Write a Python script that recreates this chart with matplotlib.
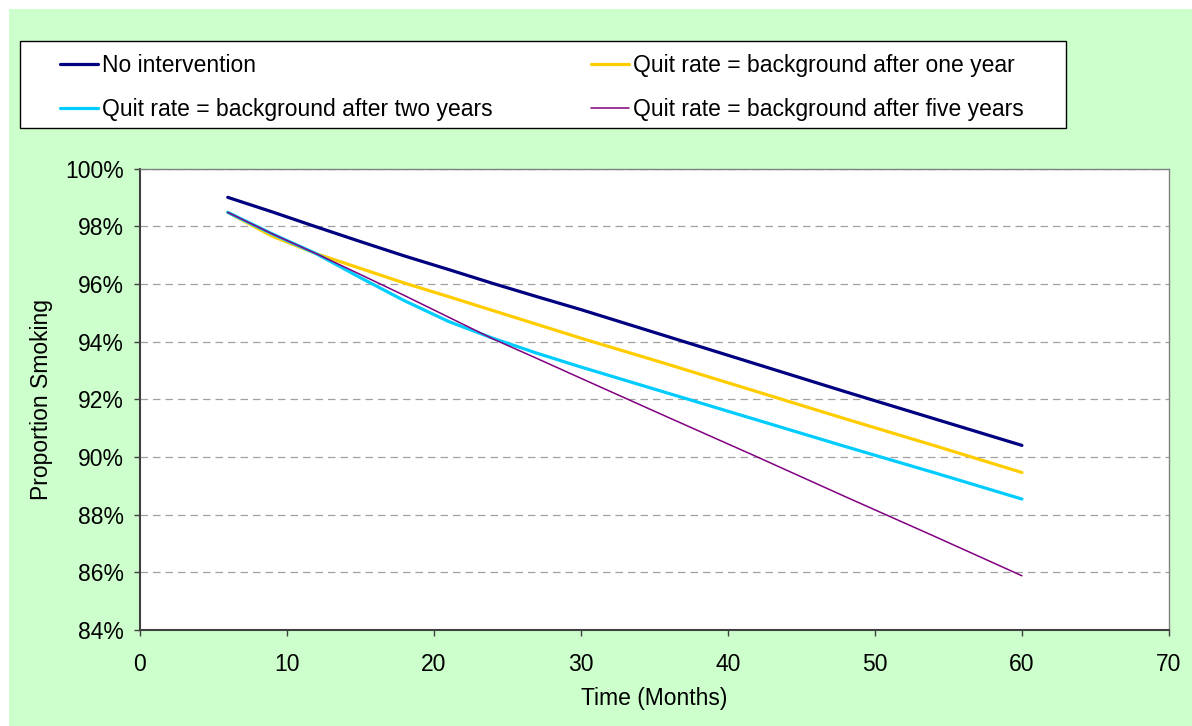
import matplotlib
matplotlib.use("Agg")
import matplotlib.pyplot as plt
from matplotlib.patches import Rectangle
from matplotlib.ticker import FuncFormatter, MultipleLocator

plt.rcParams['font.family'] = ['Liberation Sans', 'DejaVu Sans']

months = [6, 9, 12, 15, 18, 21, 24, 27, 30, 36, 42, 48, 54, 60]

# proportion smoking (%)
no_intervention = [99.0, 98.5, 97.98, 97.47, 96.97, 96.5, 96.02, 95.56, 95.11,
                   94.16, 93.21, 92.26, 91.33, 90.4]
after_one_year = [98.48, 97.66, 97.05, 96.54, 96.03, 95.56, 95.08, 94.6, 94.12,
                  93.2, 92.26, 91.32, 90.4, 89.46]
after_two_years = [98.48, 97.74, 97.05, 96.22, 95.42, 94.7, 94.12, 93.6, 93.12,
                   92.2, 91.28, 90.36, 89.46, 88.54]
after_five_years = [98.48, 97.74, 97.05, 96.33, 95.6, 94.85, 94.1, 93.42, 92.73,
                    91.36, 90.0, 88.62, 87.26, 85.88]

labels = ["No intervention",
          "Quit rate = background after one year",
          "Quit rate = background after two years",
          "Quit rate = background after five years"]

W, H = 1192, 726
FS = 16.5

fig = plt.figure(figsize=(W / 100, H / 100), dpi=100, facecolor='white')

# light green chart area
fig.patches.append(Rectangle((9 / W, 0), 1 - 9 / W, 1 - 9 / H, transform=fig.transFigure,
                             facecolor='#CCFFCC', edgecolor='none', zorder=-2))
# legend box
fig.patches.append(Rectangle((20 / W, (H - 128) / H), (1066 - 20) / W, 87 / H,
                             transform=fig.transFigure, facecolor='white',
                             edgecolor='black', linewidth=1.0, zorder=-1))

ax = fig.add_axes([139.5 / W, (H - 630) / H, (1169 - 139.5) / W, (630 - 168.5) / H])
ax.set_facecolor('white')

l1, = ax.plot(months, no_intervention, color='#000080', lw=2.3, solid_capstyle='round')
l2, = ax.plot(months, after_one_year, color='#FFCC00', lw=2.3, solid_capstyle='round')
l3, = ax.plot(months, after_two_years, color='#00CCFF', lw=2.3, solid_capstyle='round')
l4, = ax.plot(months, after_five_years, color='#800080', lw=1.1, solid_capstyle='round')

ax.set_xlim(0, 70)
ax.set_ylim(84, 100)
ax.xaxis.set_major_locator(MultipleLocator(10))
ax.yaxis.set_major_locator(MultipleLocator(2))
ax.yaxis.set_major_formatter(FuncFormatter(lambda v, p: f"{v:.0f}%"))

ax.grid(axis='y', color='#A0A0A0', linestyle=(0, (6, 4)), linewidth=0.9)
ax.set_axisbelow(True)

for s in ['top', 'right']:
    ax.spines[s].set_color('#808080')
    ax.spines[s].set_linewidth(1.0)
for s in ['left', 'bottom']:
    ax.spines[s].set_color('#404040')
    ax.spines[s].set_linewidth(1.5)

ax.tick_params(axis='both', direction='out', length=4.3, width=1, color='#404040',
               labelsize=FS, labelcolor='black')
ax.tick_params(axis='x', pad=12)
ax.tick_params(axis='y', pad=7)

ax.set_xlabel("Time (Months)", fontsize=FS, labelpad=8)
ax.set_ylabel("Proportion Smoking", fontsize=FS, labelpad=9)

# order in the reference: row 1 = none, one-year; row 2 = two-year, five-year
leg = fig.legend([l1, l3, l2, l4], [labels[0], labels[2], labels[1], labels[3]], ncol=2,
                 mode='expand', loc='center',
                 bbox_to_anchor=(60 / W, (H - 131) / H, (1024 - 60) / W, 87 / H),
                 borderaxespad=0, borderpad=0, fontsize=FS, frameon=False,
                 handlelength=1.65, handletextpad=0.2, labelspacing=0.9)

fig.savefig("out.png", dpi=100, facecolor='white')
